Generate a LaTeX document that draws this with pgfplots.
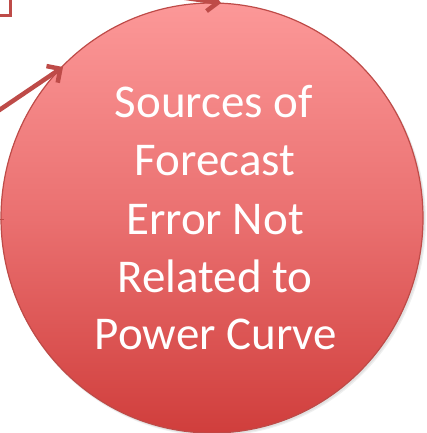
\documentclass[border=0pt]{standalone}
\usepackage{pgfplots}
\pgfplotsset{compat=1.18}
\usepackage{fontspec}
\setmainfont{Carlito}
\usetikzlibrary{arrows.meta}
\definecolor{edge}{RGB}{190,75,72}
\definecolor{topc}{RGB}{252,152,152}
\definecolor{midc}{RGB}{234,112,112}
\definecolor{botc}{RGB}{208,62,60}
\begin{document}
\begin{tikzpicture}
\begin{axis}[
  width=428pt, height=433pt, scale only axis,
  xmin=0, xmax=428, ymin=0, ymax=433, y dir=reverse,
  hide axis, clip=true,
]
% shadow
\fill[black, opacity=0.06] (axis cs:214,221) ellipse [x radius=212, y radius=215];
\fill[black, opacity=0.06] (axis cs:213.5,220) ellipse [x radius=211.5, y radius=215];
% circle
\shade[top color=topc, bottom color=botc, middle color=midc, draw=edge, line width=1.2pt]
  (axis cs:212,218) ellipse [x radius=211, y radius=215];
% box corner top-left
\addplot[edge, line width=3pt, no markers] coordinates {(-2,16) (10.5,16) (10.5,-2)};
% top arrow
\addplot[edge, line width=4.5pt, no markers, -{Straight Barb[length=10pt,width=20pt]}] coordinates {(130,-10) (221,3)};
% left arrow
\addplot[edge, line width=4.5pt, no markers, -{Straight Barb[length=10pt,width=20pt]}] coordinates {(-5,113) (63,67)};
% small left line
\addplot[edge, line width=1pt, no markers] coordinates {(0,219) (4,219)};
% text
\node[white, anchor=base, font=\fontsize{47}{57}\selectfont] at (axis cs:214,118) {Sources of};
\node[white, anchor=base, font=\fontsize{47}{57}\selectfont] at (axis cs:215,175) {Forecast};
\node[white, anchor=base, font=\fontsize{47}{57}\selectfont] at (axis cs:215,234) {Error Not};
\node[white, anchor=base, font=\fontsize{47}{57}\selectfont] at (axis cs:215,292) {Related to};
\node[white, anchor=base, font=\fontsize{47}{57}\selectfont] at (axis cs:216,349) {Power Curve};
\end{axis}
\end{tikzpicture}
\end{document}
